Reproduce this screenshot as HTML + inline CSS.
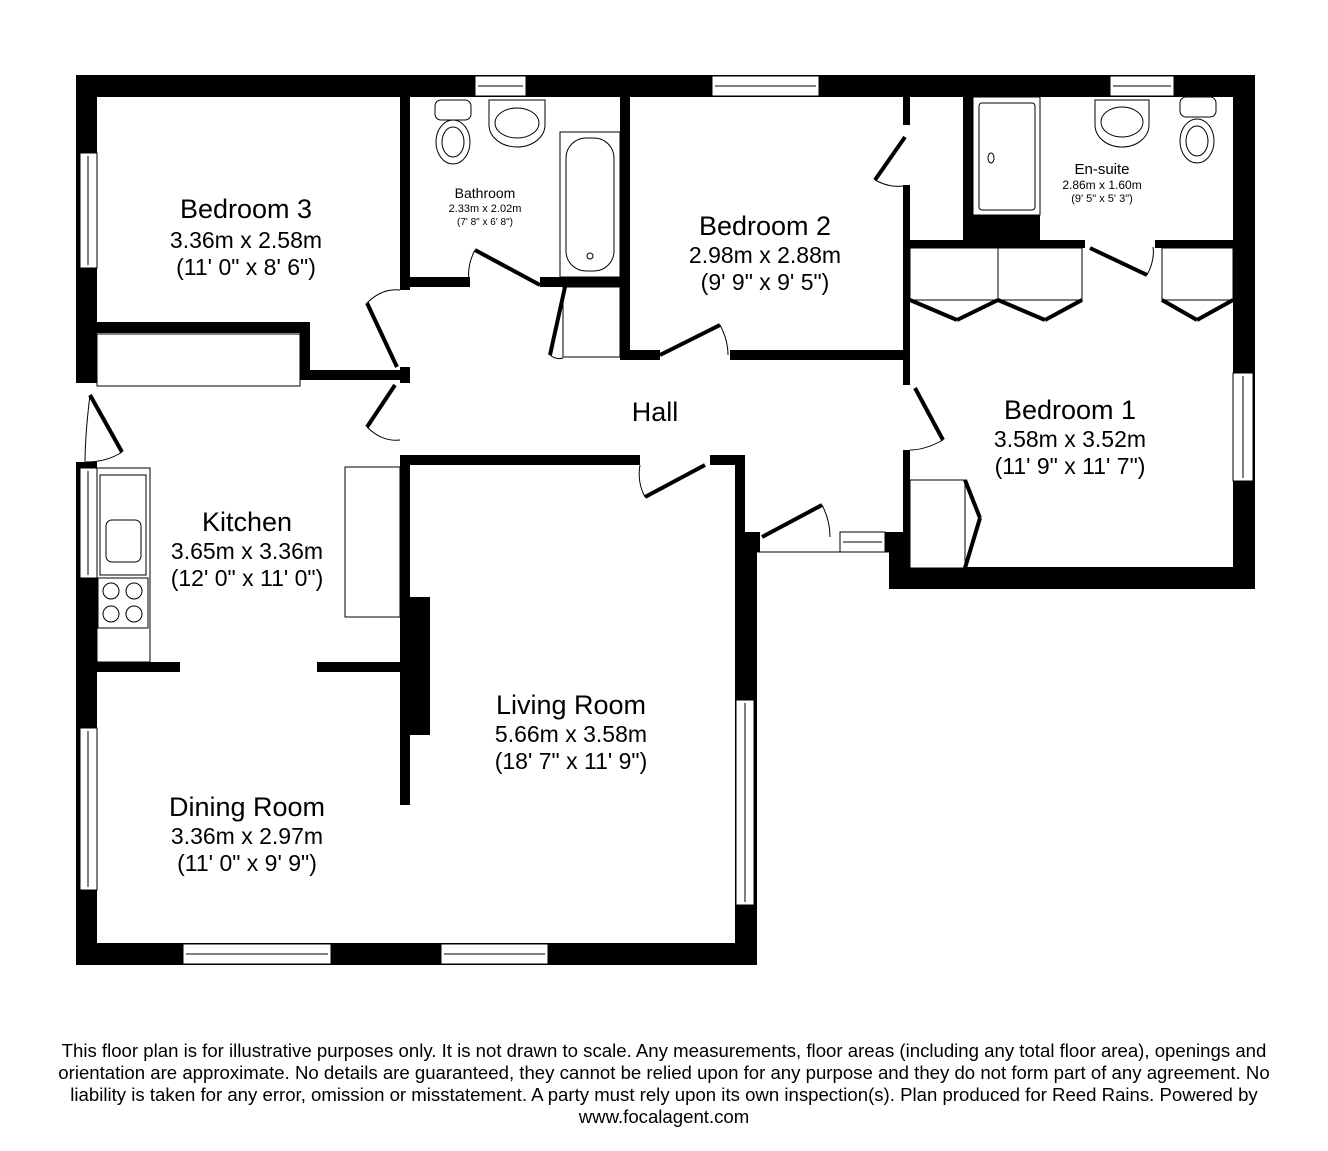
<!DOCTYPE html>
<html><head><meta charset="utf-8"><style>
body{margin:0;background:#fff;}
svg text{font-family:"Liberation Sans",Arial,sans-serif;fill:#000;text-anchor:middle}
.foot{position:absolute;left:0;top:1040px;width:1328px;text-align:center;font-family:"Liberation Sans",Arial,sans-serif;font-size:18.6px;line-height:22px;color:#000;white-space:nowrap}
</style></head><body>
<svg width="1328" height="1151" viewBox="0 0 1328 1151" style="position:absolute;left:0;top:0">
<g fill="#000">
<rect x="76" y="75" width="1179" height="22"/>
<rect x="76" y="75" width="21" height="308"/>
<rect x="76" y="462" width="21" height="503"/>
<rect x="76" y="943" width="681" height="22"/>
<rect x="735" y="535" width="22" height="430"/>
<rect x="1233" y="75" width="22" height="514"/>
<rect x="889" y="567" width="366" height="22"/>
<rect x="889" y="532" width="21" height="57"/>
<rect x="400" y="97" width="10" height="193"/>
<rect x="400" y="367" width="10" height="16"/>
<rect x="400" y="277" width="70" height="10"/>
<rect x="540" y="277" width="90" height="10"/>
<rect x="620" y="97" width="10" height="263"/>
<rect x="620" y="350" width="40" height="10"/>
<rect x="730" y="350" width="180" height="10"/>
<rect x="903" y="97" width="7" height="28"/>
<rect x="903" y="185" width="7" height="200"/>
<rect x="903" y="450" width="7" height="90"/>
<rect x="963" y="97" width="10" height="150"/>
<rect x="963" y="215" width="77" height="32"/>
<rect x="910" y="240" width="175" height="8"/>
<rect x="1155" y="240" width="78" height="8"/>
<rect x="97" y="322" width="213" height="11"/>
<rect x="300" y="322" width="10" height="58"/>
<rect x="300" y="370" width="110" height="10"/>
<rect x="400" y="455" width="240" height="10"/>
<rect x="710" y="455" width="35" height="10"/>
<rect x="735" y="455" width="10" height="90"/>
<rect x="400" y="455" width="10" height="350"/>
<rect x="405" y="597" width="25" height="138"/>
<rect x="97" y="662" width="83" height="10"/>
<rect x="317" y="662" width="93" height="10"/>
<rect x="745" y="532" width="15" height="20"/>
<rect x="882" y="532" width="28" height="20"/>
</g>
<g fill="#fff" stroke="#000" stroke-width="1">
<rect x="475" y="76" width="51" height="20"/><line x1="478" y1="86" x2="523" y2="86"/>
<rect x="712" y="76" width="107" height="20"/><line x1="715" y1="86" x2="816" y2="86"/>
<rect x="1110" y="76" width="64" height="20"/><line x1="1113" y1="86" x2="1171" y2="86"/>
<rect x="80" y="153" width="17" height="115"/><line x1="88" y1="156" x2="88" y2="265"/>
<rect x="80" y="468" width="17" height="110"/><line x1="88" y1="471" x2="88" y2="575"/>
<rect x="80" y="728" width="17" height="162"/><line x1="88" y1="731" x2="88" y2="887"/>
<rect x="183" y="944" width="148" height="20"/><line x1="186" y1="954" x2="328" y2="954"/>
<rect x="441" y="944" width="107" height="20"/><line x1="444" y1="954" x2="545" y2="954"/>
<rect x="1233" y="373" width="20" height="108"/><line x1="1243" y1="376" x2="1243" y2="478"/>
<rect x="736" y="700" width="18" height="205"/><line x1="745" y1="703" x2="745" y2="902"/>
<rect x="840" y="532" width="45" height="20"/><line x1="843" y1="542" x2="882" y2="542"/>
<rect x="97" y="334" width="203" height="52"/>
<rect x="345" y="467" width="55" height="150"/>
<rect x="97" y="468" width="53" height="194"/>
<rect x="100" y="475" width="46" height="100"/>
<rect x="106" y="520" width="35" height="42" rx="6"/>
<rect x="98" y="578" width="50" height="50"/>
<circle cx="111" cy="591" r="8"/><circle cx="134" cy="591" r="8"/><circle cx="111" cy="614" r="8"/><circle cx="134" cy="614" r="8"/>
<rect x="560" y="132" width="60" height="145"/><rect x="566" y="138" width="48" height="133" rx="20"/><circle cx="590" cy="256" r="3"/>
<rect x="435" y="100" width="36" height="20" rx="6"/><ellipse cx="453" cy="142" rx="17" ry="22"/><ellipse cx="453" cy="142" rx="11" ry="15"/>
<path d="M489 100 h56 v25 a28 22 0 0 1 -56 0z"/><ellipse cx="517" cy="123" rx="22" ry="15"/>
<rect x="973" y="97" width="67" height="118"/><rect x="979" y="103" width="56" height="107" rx="3"/><ellipse cx="991" cy="158" rx="3" ry="5"/>
<path d="M1095 100 h54 v25 a27 22 0 0 1 -54 0z"/><ellipse cx="1122" cy="122" rx="21" ry="15"/>
<rect x="1180" y="97" width="36" height="20" rx="6"/><ellipse cx="1197" cy="141" rx="17" ry="22"/><ellipse cx="1197" cy="141" rx="11" ry="15"/>
<rect x="910" y="248" width="88" height="52"/><rect x="998" y="248" width="84" height="52"/><rect x="1162" y="248" width="71" height="52"/>
<rect x="910" y="480" width="55" height="88"/>
<rect x="563" y="287" width="57" height="70"/>
<line x1="757" y1="552" x2="889" y2="552"/>
</g>
<g fill="none" stroke="#000" stroke-width="4">
<line x1="475" y1="250" x2="540" y2="285"/><line x1="367" y1="303" x2="397" y2="367"/>
<line x1="395" y1="385" x2="367" y2="427"/><line x1="565" y1="287" x2="550" y2="355"/>
<line x1="90" y1="395" x2="122" y2="452"/><line x1="660" y1="355" x2="720" y2="325"/>
<line x1="905" y1="137" x2="875" y2="180"/><line x1="915" y1="388" x2="943" y2="440"/>
<line x1="645" y1="497" x2="705" y2="465"/><line x1="762" y1="537" x2="822" y2="505"/>
<line x1="1090" y1="248" x2="1147" y2="275"/>
<line x1="910" y1="300" x2="957" y2="320"/><line x1="998" y1="300" x2="957" y2="320"/>
<line x1="998" y1="300" x2="1045" y2="320"/><line x1="1082" y1="300" x2="1045" y2="320"/>
<line x1="1162" y1="300" x2="1197" y2="320"/><line x1="1233" y1="300" x2="1197" y2="320"/>
<line x1="965" y1="480" x2="980" y2="518"/><line x1="980" y1="518" x2="965" y2="568"/>
</g>
<g fill="none" stroke="#000" stroke-width="1">
<path d="M475 250 q-8 15 -6 30"/><path d="M367 303 q15 -15 33 -13"/><path d="M367 427 q15 15 33 13"/>
<path d="M90 395 q-5 40 -5 70 M122 452 q-15 10 -36 10"/><path d="M720 325 q8 15 8 30"/>
<path d="M875 180 q15 8 28 6"/><path d="M943 440 q-18 10 -33 10"/><path d="M645 497 q-8 -15 -5 -32"/>
<path d="M822 505 q8 15 8 32"/><path d="M1147 275 q8 -15 6 -28"/><path d="M550 355 q6 5 13 3"/>
</g>
<text x="246" y="218" font-size="27">Bedroom 3</text>
<text x="246" y="248" font-size="23">3.36m x 2.58m</text>
<text x="246" y="275" font-size="23">(11' 0" x 8' 6")</text>
<text x="485" y="198" font-size="14">Bathroom</text>
<text x="485" y="212" font-size="11">2.33m x 2.02m</text>
<text x="485" y="225" font-size="10">(7' 8" x 6' 8")</text>
<text x="765" y="235" font-size="27">Bedroom 2</text>
<text x="765" y="263" font-size="23">2.98m x 2.88m</text>
<text x="765" y="290" font-size="23">(9' 9" x 9' 5")</text>
<text x="1102" y="174" font-size="15">En-suite</text>
<text x="1102" y="189" font-size="12">2.86m x 1.60m</text>
<text x="1102" y="202" font-size="11">(9' 5" x 5' 3")</text>
<text x="655" y="421" font-size="27">Hall</text>
<text x="1070" y="419" font-size="27">Bedroom 1</text>
<text x="1070" y="447" font-size="23">3.58m x 3.52m</text>
<text x="1070" y="474" font-size="23">(11' 9" x 11' 7")</text>
<text x="247" y="531" font-size="27">Kitchen</text>
<text x="247" y="559" font-size="23">3.65m x 3.36m</text>
<text x="247" y="586" font-size="23">(12' 0" x 11' 0")</text>
<text x="571" y="714" font-size="27">Living Room</text>
<text x="571" y="742" font-size="23">5.66m x 3.58m</text>
<text x="571" y="769" font-size="23">(18' 7" x 11' 9")</text>
<text x="247" y="816" font-size="27">Dining Room</text>
<text x="247" y="844" font-size="23">3.36m x 2.97m</text>
<text x="247" y="871" font-size="23">(11' 0" x 9' 9")</text>
</svg>
<div class="foot">This floor plan is for illustrative purposes only. It is not drawn to scale. Any measurements, floor areas (including any total floor area), openings and<br>orientation are approximate. No details are guaranteed, they cannot be relied upon for any purpose and they do not form part of any agreement. No<br>liability is taken for any error, omission or misstatement. A party must rely upon its own inspection(s). Plan produced for Reed Rains. Powered by<br>www.focalagent.com</div>
</body></html>
